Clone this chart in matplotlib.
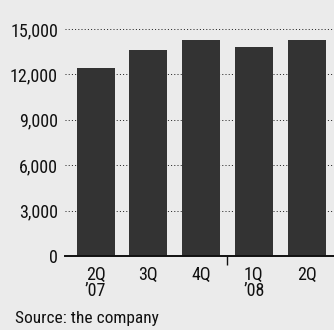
import matplotlib
matplotlib.use("Agg")
import matplotlib.pyplot as plt
from matplotlib import font_manager

categories = ["2Q\n\u201907", "3Q", "4Q", "1Q\n\u201908", "2Q"]
values = [12400, 13600, 14300, 13800, 14300]
yticks = [0, 3000, 6000, 9000, 12000, 15000]
ytick_labels = ["0", "3,000", "6,000", "9,000", "12,000", "15,000"]
source = "Source: the company"

bg = "#ebebeb"
bar_color = "#333333"

available = {f.name for f in font_manager.fontManager.ttflist}
stretches = {(f.name, f.stretch) for f in font_manager.fontManager.ttflist}
font = "Lato"
fs = 11
stretch = "normal"
for cand in ["Liberation Sans Narrow", "Roboto Condensed", "Open Sans Condensed", "Noto Sans Condensed"]:
    if cand in available:
        font = cand
        fs = 13
        break
else:
    if any(n == "DejaVu Sans" and s in ("condensed", 300, "semi-condensed") for n, s in stretches):
        font = "DejaVu Sans"
        stretch = "condensed"
        fs = 11.5

plt.rcParams["font.family"] = [font, "DejaVu Sans"]
plt.rcParams["font.stretch"] = stretch

fig = plt.figure(figsize=(3.34, 3.30), dpi=100, facecolor=bg)
ax = fig.add_axes([65 / 334, 1 - 256 / 330, 1 - 65 / 334, 227 / 330])
ax.set_facecolor(bg)

x = list(range(len(values)))
ax.bar(x, values, width=0.72, color=bar_color, zorder=3, edgecolor="none")

ax.set_xlim(-0.58, 4.52)
ax.set_ylim(0, 15000)

for v in yticks[1:]:
    ax.axhline(v, color="#222222", linewidth=0.72, linestyle=(0, (1, 2.2)), zorder=1, clip_on=False)
ax.axhline(0, color="#111111", linewidth=1.4, zorder=4, clip_on=False)

for s in ax.spines.values():
    s.set_visible(False)

ax.set_yticks(yticks)
ax.set_yticklabels(ytick_labels, fontsize=fs, color="#111111")
ax.tick_params(axis="y", length=0, pad=5)

ax.set_xticks(x)
ax.set_xticklabels(categories, fontsize=fs, color="#111111", linespacing=0.9)
ax.tick_params(axis="x", which="major", length=0, pad=7)
ax.set_xticks([2.5], minor=True)
ax.tick_params(axis="x", which="minor", length=6.5, width=1.0, color="#111111", direction="out")

fig.text(15 / 334, 1 - 318 / 330, source, fontsize=fs - 0.5, color="#111111", ha="left", va="center")

fig.savefig("out.png", dpi=100, facecolor=bg)
